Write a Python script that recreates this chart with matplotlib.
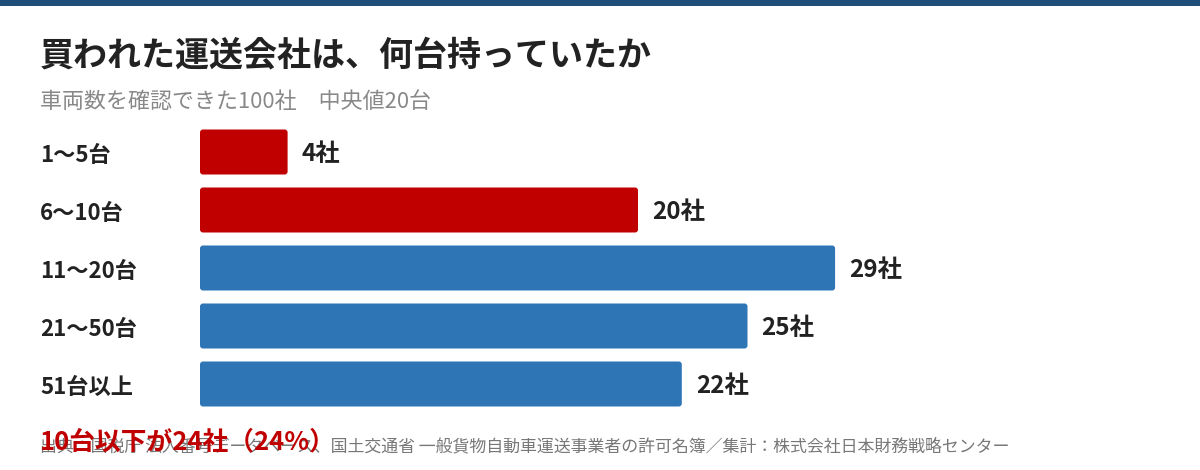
import matplotlib
matplotlib.use("Agg")
import matplotlib.pyplot as plt
from matplotlib.patches import FancyBboxPatch, Rectangle
import matplotlib.transforms as mtransforms

plt.rcParams['font.family'] = ['Noto Sans CJK JP', 'DejaVu Sans']

categories = ["1〜5台", "6〜10台", "11〜20台", "21〜50台", "51台以上"]
counts = [4, 20, 29, 25, 22]
value_labels = ["4社", "20社", "29社", "25社", "22社"]
colors = ["#C00000", "#C00000", "#2E75B6", "#2E75B6", "#2E75B6"]

title = "買われた運送会社は、何台持っていたか"
subtitle = "車両数を確認できた100社　中央値20台"
note = "10台以下が24社（24%）"
source = "出典：国税庁 法人番号データベース、国土交通省 一般貨物自動車運送事業者の許可名簿／集計：株式会社日本財務戦略センター"

W, H = 1200, 470
fig = plt.figure(figsize=(W / 100, H / 100), dpi=100)
fig.patch.set_facecolor("white")

def fx(px):
    return px / W

def fy(py):
    return 1 - py / H

# top band
fig.add_artist(Rectangle((0, fy(6)), 1, 6 / H, transform=fig.transFigure,
                         facecolor="#1F4E79", edgecolor="none"))

# axes for bars
ax_top, ax_bot = 123, 413
ax = fig.add_axes([fx(200), fy(ax_bot), fx(1000), (ax_bot - ax_top) / H])
ax.set_xlim(0, 1000 / 21.9)
ax.set_ylim(len(categories) - 0.5, -0.5)
ax.axis("off")

ypos = list(range(len(categories)))
bars = ax.barh(ypos, counts, height=0.776, color=colors)
px_per_x = 21.9
px_per_y = 58
r = 3.0
for b, c in zip(bars, colors):
    x0, y0, w, h = b.get_x(), b.get_y(), b.get_width(), b.get_height()
    b.remove()
    p = FancyBboxPatch((x0, y0), w, h,
                       boxstyle=f"round,pad=0,rounding_size={r / px_per_x}",
                       mutation_aspect=(px_per_x / px_per_y),
                       facecolor=c, edgecolor="none")
    ax.add_patch(p)

for y, v, lab in zip(ypos, counts, value_labels):
    ax.annotate(lab, xy=(v, y), xytext=(10, -1.5), textcoords="offset points",
                ha="left", va="center", fontsize=17.5, fontweight="bold",
                color="#222222")

trans = mtransforms.blended_transform_factory(fig.transFigure, ax.transData)
for y, cat in zip(ypos, categories):
    ax.annotate(cat, xy=(fx(40), y), xycoords=trans, xytext=(0, -2.5),
                textcoords="offset points", ha="left", va="center",
                fontsize=16, fontweight="bold", color="#222222")

fig.text(fx(40), fy(55), title, ha="left", va="center", fontsize=24.5,
         fontweight="bold", color="#222222")
fig.text(fx(40), fy(102), subtitle, ha="left", va="center", fontsize=15.8,
         color="#888888")
fig.text(fx(40), fy(446), source, ha="left", va="center", fontsize=12.2,
         color="#777777")
fig.text(fx(40), fy(442), note, ha="left", va="center", fontsize=18.5,
         fontweight="bold", color="#C00000")

fig.savefig("out.png", dpi=100, facecolor="white")
